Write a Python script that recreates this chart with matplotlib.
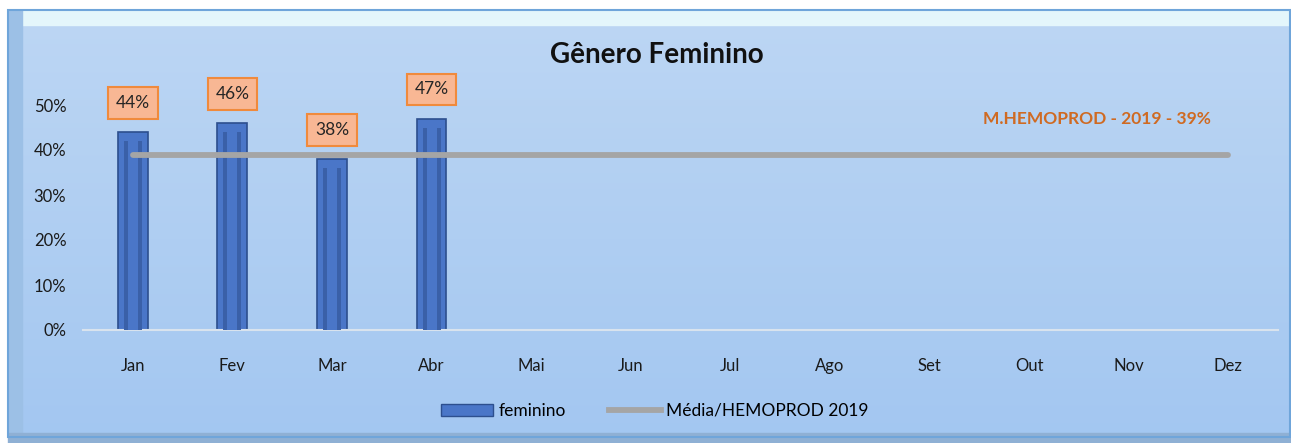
import numpy as np
import matplotlib.pyplot as plt
from matplotlib.patches import Rectangle, Patch
from matplotlib.lines import Line2D

meses = ["Jan", "Fev", "Mar", "Abr", "Mai", "Jun", "Jul", "Ago", "Set", "Out", "Nov", "Dez"]
feminino = [0.44, 0.46, 0.38, 0.47]
media_2019 = [0.39] * 12
yticks = [0, 0.1, 0.2, 0.3, 0.4, 0.5]

plt.rcParams['font.family'] = ['Lato', 'DejaVu Sans']

W, H = 1291, 443
fig = plt.figure(figsize=(W / 100, H / 100), dpi=100)

# background with gradient and bevelled frame
bg = fig.add_axes([0, 0, 1, 1])
bg.set_xlim(0, W)
bg.set_ylim(H, 0)
bg.axis("off")
grad = np.linspace(0, 1, 256).reshape(-1, 1)
top = np.array([0.74, 0.84, 0.955])
bot = np.array([0.64, 0.78, 0.945])
img = top + (bot - top) * grad[:, :, None]
bg.imshow(img, extent=[8, 1290, 437, 10], aspect="auto", zorder=0)
bg.add_patch(Rectangle((8, 10), 1282, 15, color="#e4f6fb", zorder=1))
bg.add_patch(Rectangle((8, 10), 14, 427, color="#9cc0e6", zorder=1))
bg.add_patch(Rectangle((8, 433), 1282, 10, color="#8fb0d4", zorder=1))
bg.add_patch(Rectangle((8, 10), 1282, 427, fill=False, ec="#6fa5da", lw=1.5, zorder=2))

ax = fig.add_axes([83 / W, 1 - 330 / H, 1195 / W, 270 / H])
ax.set_facecolor("none")
x = np.arange(len(meses))
xb = x[:len(feminino)]

# bars with a bevelled look: outer bar, darker inner channel, light centre
ax.bar(xb, feminino, width=0.3, color="#4a76c8", edgecolor="#2d4f8e", lw=1.2, zorder=2)
ax.bar(xb, [v - 0.02 for v in feminino], width=0.18, color="#3a60a8", zorder=3)
ax.bar(xb, [v - 0.02 for v in feminino], width=0.1, color="#4a76c8", zorder=3)

ax.plot(x, media_2019, color="#a5a5a5", lw=4.2, solid_capstyle="round", zorder=4)

for xi, v in zip(xb, feminino):
    ax.annotate(f"{v * 100:.0f}%", (xi, v), xytext=(0, 21), textcoords="offset points",
                ha="center", va="center", fontsize=12.5, color="#262626",
                bbox=dict(boxstyle="square,pad=0.45", fc="#f8b794", ec="#f08a3c", lw=1.5),
                zorder=5)

ax.text(9.68, 0.47, "M.HEMOPROD - 2019 - 39%", ha="center", va="center",
        fontsize=12.5, fontweight="bold", color="#cf6a22")

ax.set_xlim(-0.5, 11.5)
ax.set_ylim(0, 0.6)
ax.set_yticks(yticks)
ax.set_yticklabels([f"{t * 100:.0f}%" for t in yticks])
ax.set_xticks(x)
ax.set_xticklabels(meses)
ax.tick_params(length=0, labelsize=12, colors="#1a1a1a")
ax.tick_params(axis="x", pad=20)
ax.tick_params(axis="y", pad=12)
for s in ["top", "right", "left"]:
    ax.spines[s].set_visible(False)
ax.spines["bottom"].set_color("#d9e3ee")
ax.spines["bottom"].set_linewidth(1.5)

fig.text(657 / W, 1 - 55 / H, "Gênero Feminino", ha="center", va="center",
         fontsize=20, fontweight="bold", color="#111111")

handles = [Patch(fc="#4a76c8", ec="#2d4f8e"),
           Line2D([0], [0], color="#a5a5a5", lw=4.2)]
fig.legend(handles, ["feminino", "Média/HEMOPROD 2019"], loc="center",
           bbox_to_anchor=(655 / W, 1 - 411 / H), ncol=2, frameon=False,
           fontsize=12.5, handlelength=3.0, handletextpad=0.3, columnspacing=2.5)

plt.savefig("out.png", dpi=100)
